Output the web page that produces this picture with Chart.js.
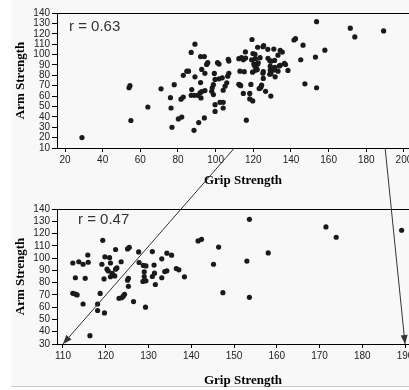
<!DOCTYPE html>
<html>
<head>
<meta charset="utf-8">
<script src="https://cdn.jsdelivr.net/npm/chart.js@4.4.0/dist/chart.umd.min.js"></script>
<style>
html, body { margin: 0; padding: 0; width: 409px; height: 390px; overflow: hidden; background: #fff; }
#page { position: absolute; left: 11px; top: 0; width: 398px; height: 386px; background: #f8f8f8; border-bottom: 1px solid #c8c8c8; }
.box { position: absolute; left: 0; width: 433px; height: 195px; }
#topBox { top: 0; }
#botBox { top: 195px; }
#arrows { position: absolute; left: 0; top: 0; }
</style>
</head>
<body>
<div id="page"></div>
<div class="box" id="topBox"><canvas id="topChart"></canvas></div>
<div class="box" id="botBox"><canvas id="botChart"></canvas></div>
<canvas id="arrows" width="409" height="390"></canvas>
<script>
// grip strength (x) and arm strength (y)
var gripStrength = [
    29, 54, 54.5, 55, 64, 71, 78, 76, 76.3, 76.8, 80.2, 82, 81.6, 82.8, 82.8, 84.7, 85.6, 87, 89, 92,
    94, 88.5, 91, 94, 89, 92, 92.6, 94.3, 95.2, 95.8, 87.3, 87, 88.7, 90.5, 91.7, 92.6, 94.3, 92.2, 97.9, 98.8,
    98.2, 98.8, 99.3, 99.7, 101.8, 103.5, 101, 101.8, 104, 105, 105.9, 106.7, 107, 106.4, 107, 99.7, 102.3, 104, 104, 99.7,
    112.3, 113.7, 114.7, 115.8, 115.9, 119.3, 119.8, 120.9, 119.1, 120.3, 120.6, 121.1, 121.5, 121.1, 122.1, 122.3, 122.3, 122.6, 123.6, 125.1,
    125.5, 125.3, 125.1, 125.3, 127.7, 127.8, 128.8, 129, 128.7, 129.4, 129, 129.4, 130.9, 131.3, 130.9, 131.4, 131.6, 133.1, 133.1, 133.8,
    134.3, 134.3, 135.4, 136.5, 137.1, 138.4, 141.6, 142.4, 112.3, 112.9, 113.3, 112.9, 115.2, 114.7, 118.1, 118.7, 118.1, 119.6, 119.7, 116.3,
    123.1, 123.7, 124.1, 124.4, 126.5, 129.3, 146.4, 145.2, 153, 153.6, 158, 147.4, 153.6, 171.5, 173.9, 189.2
];
var armStrength = [
    20, 68, 70, 36.5, 49.5, 67, 71, 58.5, 48.5, 30, 38, 39.8, 57, 59, 80, 84, 84, 102, 110, 98,
    98, 27, 34.5, 39, 78.5, 73, 85.7, 82, 90.5, 92.2, 66.3, 60.7, 60.7, 60.7, 63, 64.3, 65.3, 58.2, 64.6, 61.4,
    68, 71, 81.8, 76, 76.6, 77.6, 92.2, 90.8, 65.6, 69.5, 72.8, 95.4, 93.7, 79.2, 82, 51.7, 54, 54, 48.5, 45.2,
    96, 97, 95, 102.5, 96.6, 114.5, 101, 100.3, 95, 91, 89.5, 96, 87.6, 84.8, 85.5, 107, 91, 92, 97, 107.5,
    108.7, 83.5, 82, 77, 105, 96.4, 94, 85, 81, 81.5, 88.8, 93.6, 105.3, 94.3, 85, 87.7, 78.5, 99.4, 84, 89,
    89.6, 104, 102.4, 91.5, 90.4, 84.7, 114, 115.3, 71.3, 70.7, 70, 84, 83.5, 62.6, 62.6, 71.2, 57.3, 83, 55.3, 36.8,
    67.2, 67.7, 69, 70.5, 64.6, 60, 109, 95, 97.6, 131.6, 104.2, 71.8, 68, 125.4, 117, 122.7
];

var topXTicks = [20, 40, 60, 80, 100, 120, 140, 160, 180, 200];
var topYTicks = [10, 20, 30, 40, 50, 60, 70, 80, 90, 100, 110, 120, 130, 140];
var botXTicks = [110, 120, 130, 140, 150, 160, 170, 180, 190];
var botYTicks = [30, 40, 50, 60, 70, 80, 90, 100, 110, 120, 130, 140];
var zoomRange = [110, 190];
var rTop = 'r = 0.63';
var rBottom = 'r = 0.47';

var points = [];
for (var i = 0; i < gripStrength.length; i++) {
    points.push({ x: gripStrength[i], y: armStrength[i] });
}

var tickFont = { family: 'Liberation Sans', size: 10 };
var titleFont = { family: 'Liberation Serif', size: 13, weight: 'bold' };

// top frame line + "r = ..." label
var framePlugin = {
    id: 'frame',
    afterDraw: function(chart, args, opts) {
        var ctx = chart.ctx;
        var a = chart.chartArea;
        ctx.save();
        ctx.strokeStyle = '#000';
        ctx.lineWidth = 1;
        ctx.beginPath();
        ctx.moveTo(a.left, a.top + 0.5);
        ctx.lineTo(a.right, a.top + 0.5);
        ctx.stroke();
        ctx.fillStyle = '#333';
        ctx.font = '15px "Liberation Sans"';
        ctx.textBaseline = 'middle';
        ctx.fillText(opts.text, a.left + opts.dx, a.top + opts.dy);
        ctx.restore();
    }
};

function makeChart(canvasId, xMin, xMax, xTicks, yMin, yMax, yTicks, padTop, axisHeight, titlePad, label, labelDx, labelDy) {
    return new Chart(document.getElementById(canvasId), {
        type: 'scatter',
        data: {
            datasets: [{
                data: points,
                backgroundColor: '#1a1a1a',
                borderWidth: 0,
                pointRadius: 2.6,
                clip: 0
            }]
        },
        options: {
            responsive: true,
            maintainAspectRatio: false,
            animation: false,
            events: [],
            layout: { padding: { top: padTop, left: 0, right: 0, bottom: 0 } },
            plugins: {
                legend: { display: false },
                tooltip: { enabled: false },
                frame: { text: label, dx: labelDx, dy: labelDy }
            },
            scales: {
                x: {
                    type: 'linear',
                    min: xMin,
                    max: xMax,
                    afterBuildTicks: function(scale) {
                        scale.ticks = xTicks.map(function(v) { return { value: v }; });
                    },
                    afterFit: function(scale) { scale.height = axisHeight; },
                    grid: { display: true, drawOnChartArea: false, drawTicks: true, tickLength: 4, color: '#000' },
                    border: { display: true, color: '#000', width: 1 },
                    ticks: { font: tickFont, color: '#222', padding: 2, autoSkip: false, maxRotation: 0 },
                    title: { display: true, text: 'Grip Strength', font: titleFont, color: '#000', padding: { top: 0, bottom: titlePad } }
                },
                y: {
                    type: 'linear',
                    min: yMin,
                    max: yMax,
                    afterBuildTicks: function(scale) {
                        scale.ticks = yTicks.map(function(v) { return { value: v }; });
                    },
                    afterFit: function(scale) { scale.width = 57; },
                    grid: { display: true, drawOnChartArea: false, drawTicks: true, tickLength: 5, color: '#000' },
                    border: { display: true, color: '#000', width: 1 },
                    ticks: { font: tickFont, color: '#222', padding: 2, autoSkip: false },
                    title: { display: true, text: 'Arm Strength', font: titleFont, color: '#000', padding: { top: 13, bottom: 0 } }
                }
            }
        },
        plugins: [framePlugin]
    });
}

var topChart = makeChart('topChart', 15.75, 213.3, topXTicks, 10, 140, topYTicks, 13, 47, 7, rTop, 12, 14);
var botChart = makeChart('botChart', 108.6, 195.6, botXTicks, 30, 140, botYTicks, 14, 46, 2, rBottom, 21, 11);

// arrows from the top x-axis to the zoomed bottom x-axis
function drawArrows() {
    var ctx = document.getElementById('arrows').getContext('2d');
    var topOff = document.getElementById('topBox').offsetTop;
    var botOff = document.getElementById('botBox').offsetTop;
    ctx.strokeStyle = '#333';
    ctx.fillStyle = '#333';
    ctx.lineWidth = 1;
    zoomRange.forEach(function(v) {
        var x1 = topChart.scales.x.getPixelForValue(v);
        var y1 = topChart.chartArea.bottom + topOff;
        var x2 = botChart.scales.x.getPixelForValue(v);
        var y2 = botChart.chartArea.bottom + botOff;
        ctx.beginPath();
        ctx.moveTo(x1, y1);
        ctx.lineTo(x2, y2);
        ctx.stroke();
        var ang = Math.atan2(y2 - y1, x2 - x1);
        var len = 9, half = 3.5;
        ctx.beginPath();
        ctx.moveTo(x2, y2);
        ctx.lineTo(x2 - len * Math.cos(ang) + half * Math.sin(ang), y2 - len * Math.sin(ang) - half * Math.cos(ang));
        ctx.lineTo(x2 - len * Math.cos(ang) - half * Math.sin(ang), y2 - len * Math.sin(ang) + half * Math.cos(ang));
        ctx.closePath();
        ctx.fill();
    });
}
drawArrows();
</script>
</body>
</html>
